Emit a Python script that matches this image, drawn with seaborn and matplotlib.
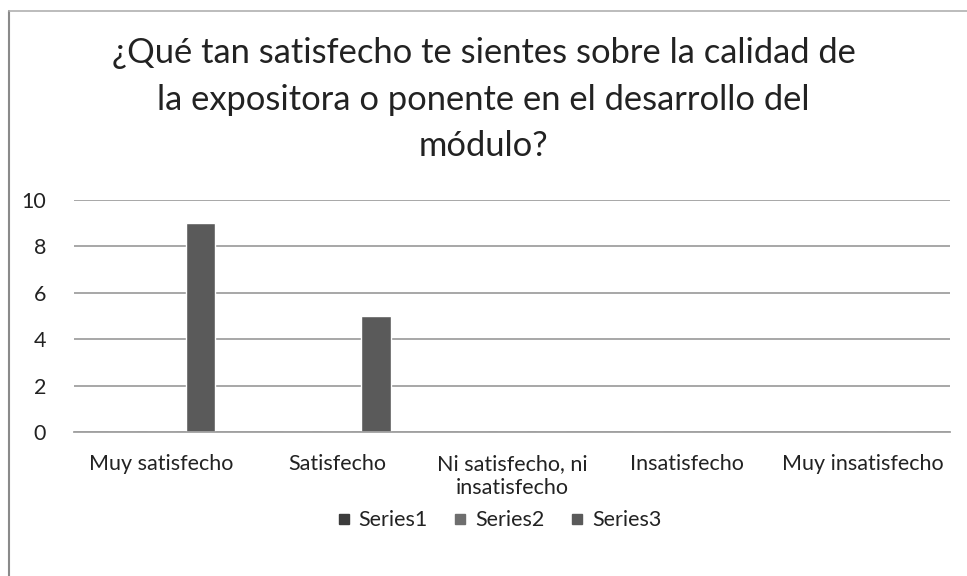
import pandas as pd
import matplotlib
matplotlib.use('Agg')
import matplotlib.pyplot as plt
import seaborn as sns
from matplotlib.lines import Line2D

# --- data ---
categorias = ['Muy satisfecho', 'Satisfecho', 'Ni satisfecho, ni\ninsatisfecho',
              'Insatisfecho', 'Muy insatisfecho']
series1 = [0, 0, 0, 0, 0]
series2 = [0, 0, 0, 0, 0]
series3 = [9, 5, 0, 0, 0]
nombres_series = ['Series1', 'Series2', 'Series3']
colores = ['#3c3c3c', '#6e6e6e', '#5a5a5a']

df = pd.DataFrame({
    'categoria': categorias * 3,
    'serie': [s for s in nombres_series for _ in categorias],
    'valor': series1 + series2 + series3,
})

sns.set_style('white')
plt.rcParams['font.family'] = ['Lato', 'DejaVu Sans']

fig = plt.figure(figsize=(9.67, 5.76), dpi=100)
ax = fig.add_axes([0.0765, 0.25, 0.906, 0.403])

sns.barplot(data=df, x='categoria', y='valor', hue='serie', palette=colores,
            width=0.67, gap=0.25, ax=ax, saturation=1)

ax.set_ylim(0, 10)
ax.set_yticks(range(0, 11, 2))
ax.grid(axis='y', color='#a0a0a0', linewidth=1.3)
ax.set_axisbelow(True)
ax.set_xlabel('')
ax.set_ylabel('')
for s in ['top', 'right', 'left']:
    ax.spines[s].set_visible(False)
ax.spines['bottom'].set_color('#a0a0a0')
ax.spines['bottom'].set_linewidth(1.3)
ax.tick_params(axis='both', length=0, labelsize=15.5, colors='#222222')
ax.tick_params(axis='y', pad=20)
ax.tick_params(axis='x', pad=16)
for lbl in ax.get_xticklabels():
    lbl.set_linespacing(1.25)

fig.suptitle('¿Qué tan satisfecho te sientes sobre la calidad de\n'
             'la expositora o ponente en el desarrollo del\nmódulo?',
             x=0.5, y=0.935, fontsize=24.8, color='#222222', linespacing=1.55,
             va='top')

handles = [Line2D([0], [0], marker='s', linestyle='', markersize=7.5,
                  markerfacecolor=c, markeredgecolor=c) for c in colores]
ax.get_legend().remove()
fig.legend(handles, nombres_series, loc='center', bbox_to_anchor=(0.513, 0.097),
           ncol=3, frameon=False, fontsize=15.5, handletextpad=0.1,
           handlelength=1.2, columnspacing=0.9, labelcolor='#222222')

# chart border (left and top edge visible in the scan)
fig.add_artist(Line2D([9 / 967, 9 / 967], [0, 1 - 11 / 576],
                      transform=fig.transFigure, color='#8a8a8a', linewidth=1.5))
fig.add_artist(Line2D([9 / 967, 1], [1 - 11 / 576, 1 - 11 / 576],
                      transform=fig.transFigure, color='#b0b0b0', linewidth=1.2))

fig.savefig('out.png', dpi=100)
